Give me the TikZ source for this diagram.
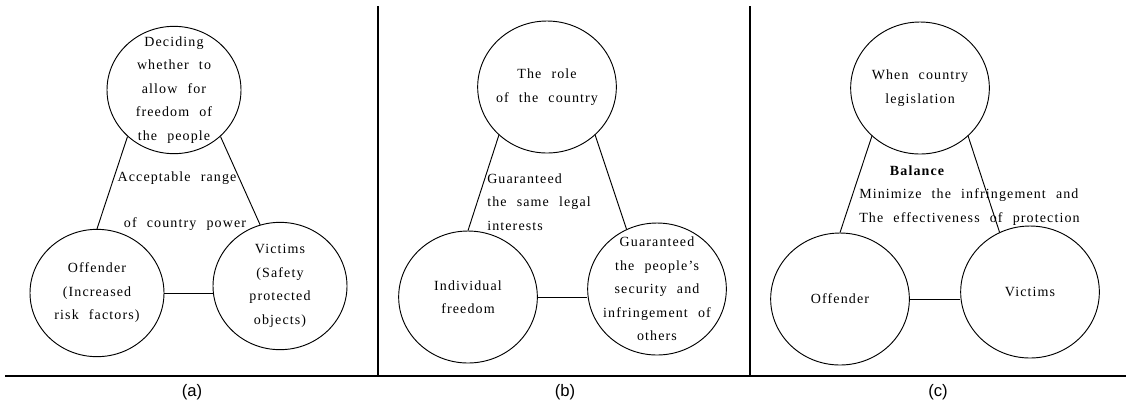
\documentclass[tikz,border=0pt]{standalone}
\usepackage{fontspec}
\setmainfont{Liberation Serif}[LetterSpace=8,WordSpace=2.2]
\newfontfamily\capfont{Liberation Sans}
\usetikzlibrary{shapes.geometric}

\begin{document}
\begin{tikzpicture}[x=0.75pt, y=-0.75pt,
  bubble/.style={draw, ellipse, line width=0.7pt, minimum width=104pt, minimum height=99pt, inner sep=0pt},
  small/.style={minimum width=100.5pt, minimum height=95.5pt},
  txt/.style={align=center, inner sep=0pt, font=\fontsize{10.5}{17.6}\selectfont},
  link/.style={line width=0.7pt},
  rule/.style={line width=0.9pt},
  tag/.style={font=\capfont\fontsize{12.5}{14}\selectfont}]

  \useasboundingbox (0,0) rectangle (1126,405);

  % Frame
  \draw[rule] (378,6) -- (378,376);
  \draw[rule] (750,6) -- (750,376);
  \draw[rule] (5,376) -- (1126,376);

  % (a)
  \node[bubble, small] (ta) at (174,90) {};
  \node[bubble, small] (oa) at (97,293) {};
  \node[bubble, small] (va) at (280,286) {};
  \node[txt] (ta-t) at (ta) {Deciding\\whether to\\allow for\\freedom of\\the people};
  \node[txt] (oa-t) at (oa) {Offender\\(Increased\\risk factors)};
  \node[txt] (va-t) at (va) {Victims\\(Safety\\protected\\objects)};
  \draw[link] (ta.225) -- (oa.north);
  \draw[link] (ta.315) -- (va.108);
  \draw[link] (oa.east) -- (oa.east -| va.west);
  \node[txt] (range) at (177,178) {Acceptable range};
  \node[txt] (power) at (185,224) {of country power};
  \node[tag] (taga) at (192,392) {(a)};

  % (b)
  \node[bubble] (tb) at (547,87) {};
  \node[bubble] (ib) at (468,297) {};
  \node[bubble] (gb) at (657,289) {};
  \node[txt] (tb-t) at (tb) {The role\\of the country};
  \node[txt] (ib-t) at (ib) {Individual\\freedom};
  \node[txt] (gb-t) at (gb) {Guaranteed\\the people's\\security and\\infringement of\\others};
  \draw[link] (tb.225) -- (ib.north);
  \draw[link] (tb.315) -- (gb.117);
  \draw[link] (ib.east) -- (ib.east -| gb.west);
  \node[txt, align=left, anchor=west] (legal) at (487,202) {Guaranteed\\the same legal\\interests};
  \node[tag] (tagb) at (565,392) {(b)};

  % (c)
  \node[bubble] (tc) at (920,88) {};
  \node[bubble] (oc) at (840,299) {};
  \node[bubble] (vc) at (1030,292) {};
  \node[txt] (tc-t) at (tc) {When country\\legislation};
  \node[txt] (oc-t) at (oc) {Offender};
  \node[txt] (vc-t) at (vc) {Victims};
  \draw[link] (tc.225) -- (oc.north);
  \draw[link] (tc.315) -- (vc.117);
  \draw[link] (oc.east) -- (oc.east -| vc.west);
  \node[txt, font=\bfseries\fontsize{10.5}{17.6}\selectfont] (bal) at (917,171) {Balance};
  \node[txt, align=left, anchor=west] (minim) at (859,207) {Minimize the infringement and\\The effectiveness of protection};
  \node[tag] (tagc) at (938,392) {(c)};

\end{tikzpicture}
\end{document}
